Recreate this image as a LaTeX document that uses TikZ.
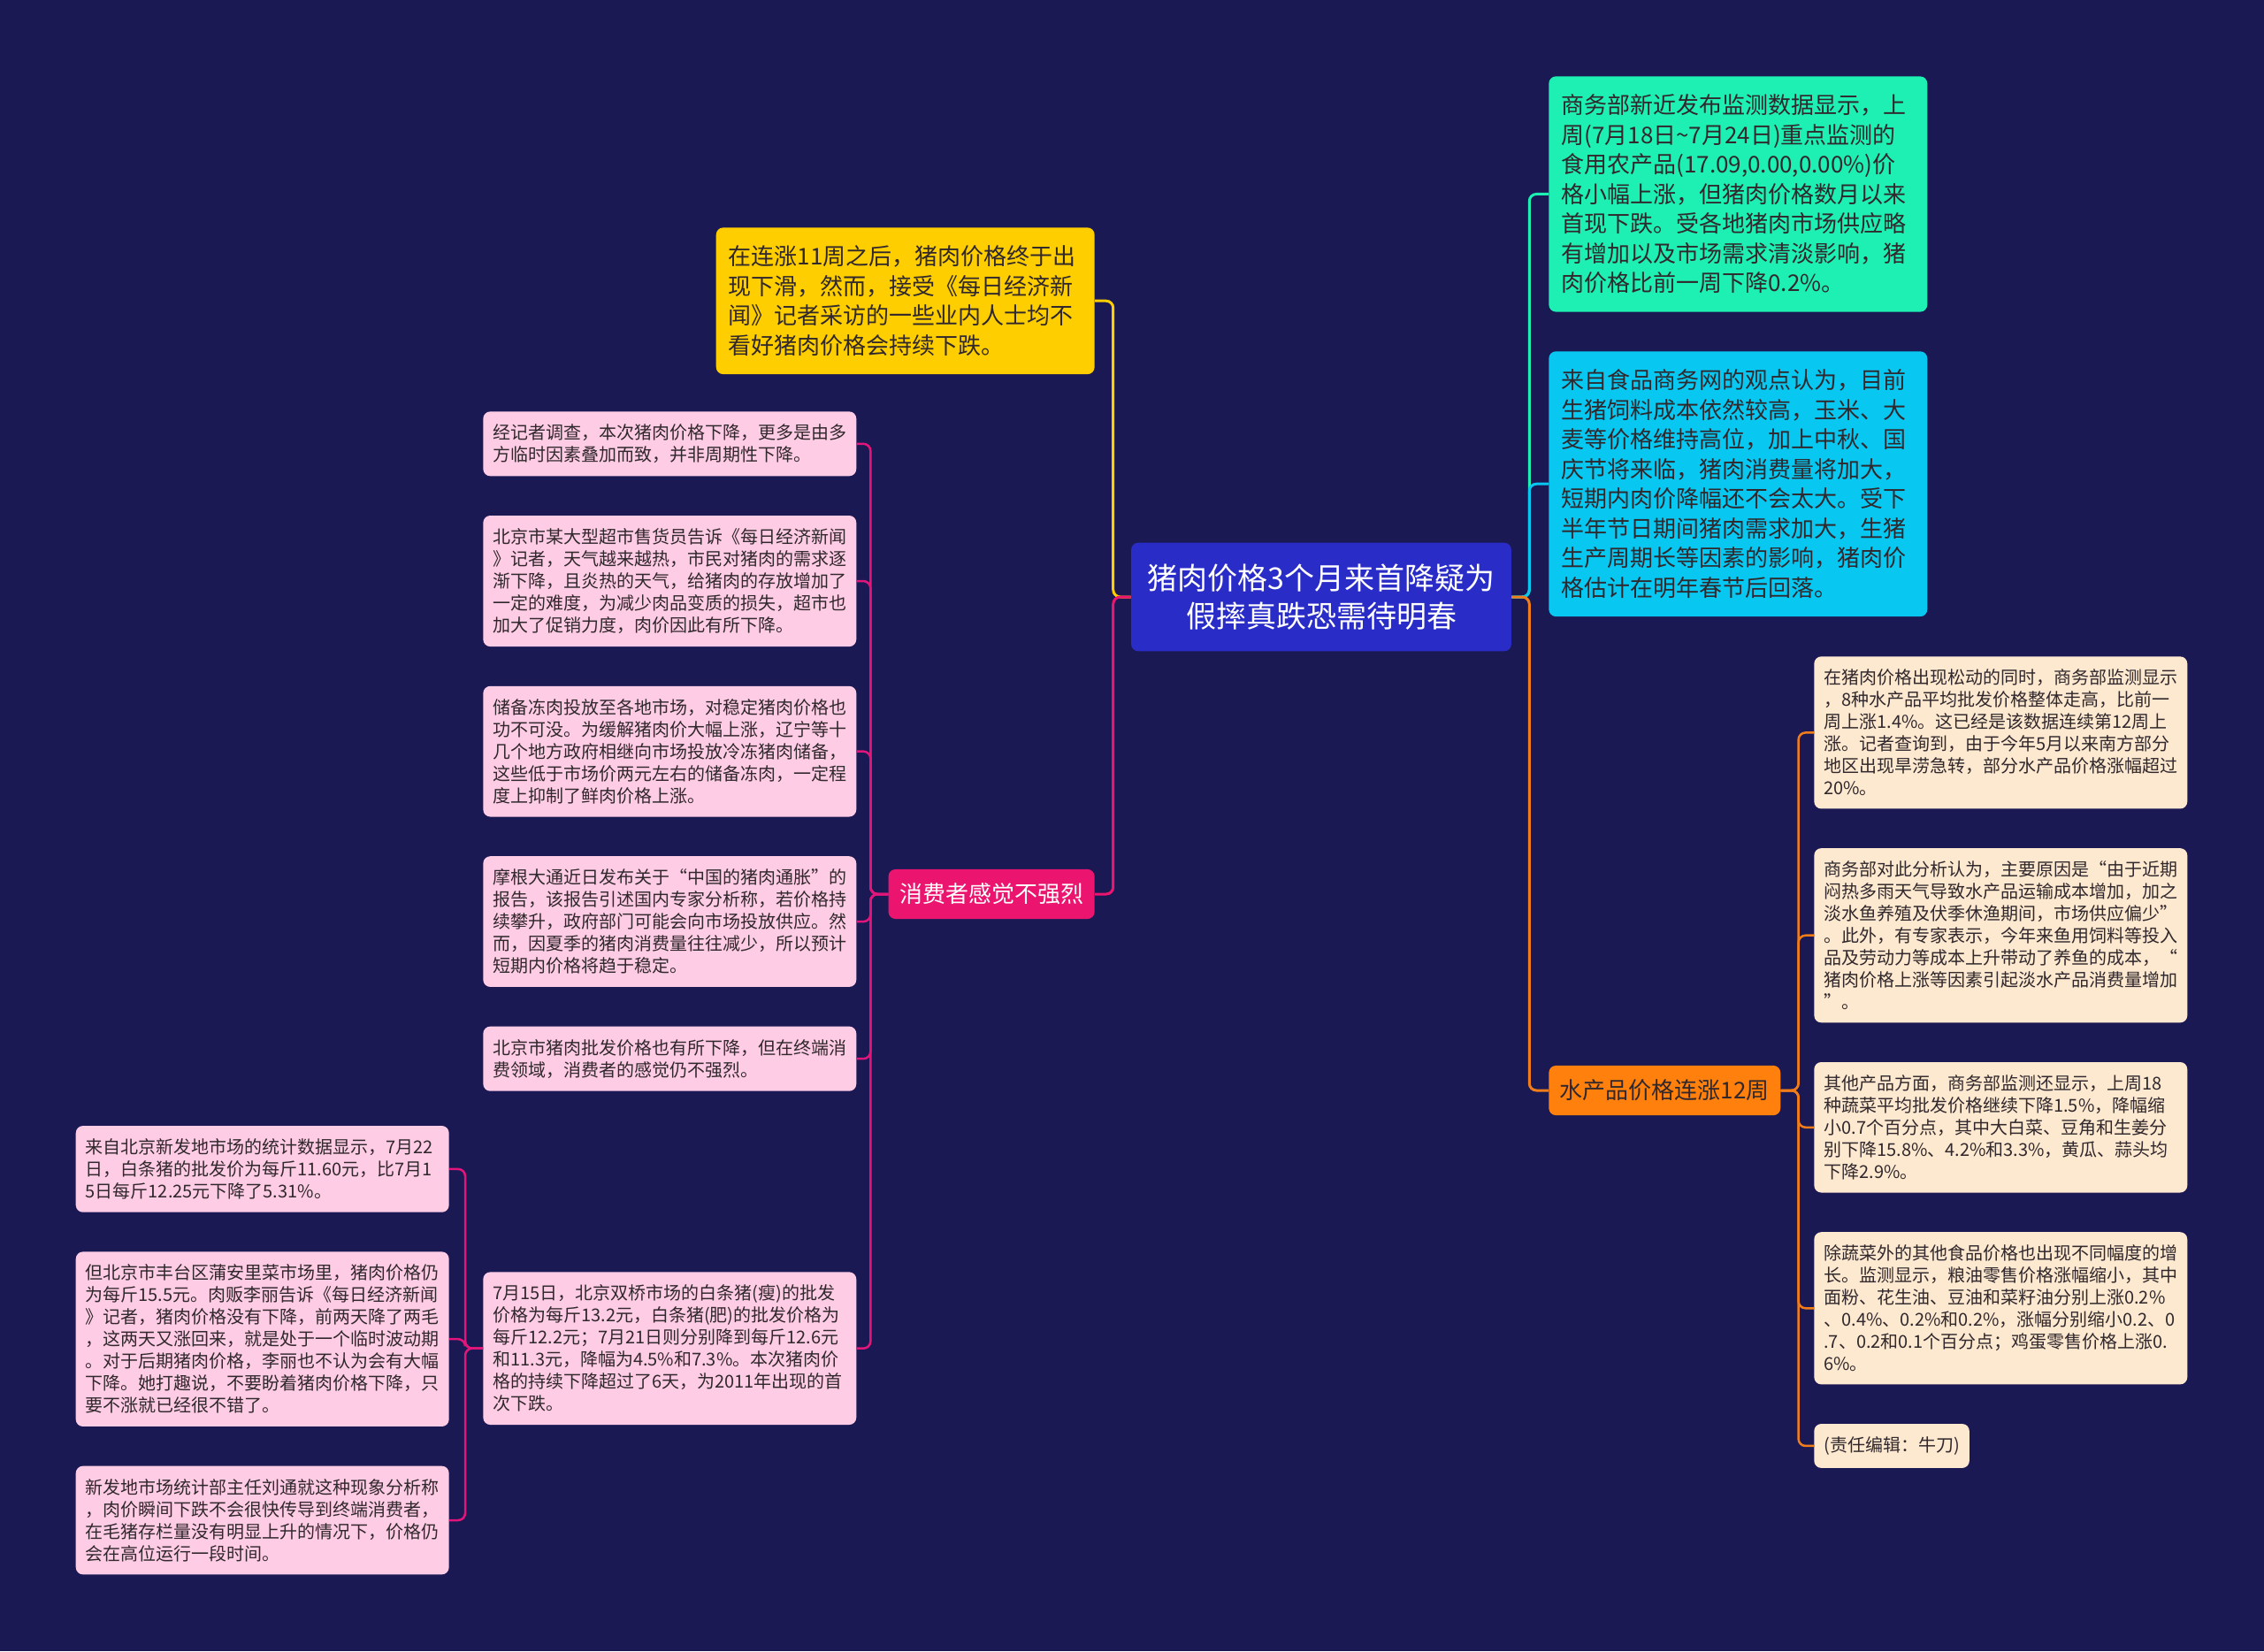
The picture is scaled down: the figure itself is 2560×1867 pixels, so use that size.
\documentclass[tikz,border=0pt]{standalone}
\usepackage{fontspec}
\newfontfamily\cjkfont{Noto Sans CJK SC}
\usetikzlibrary{positioning}

\definecolor{bgnavy}{RGB}{26,25,84}
\definecolor{rootblue}{RGB}{42,44,200}
\definecolor{tealbox}{RGB}{30,240,180}
\definecolor{cyanbox}{RGB}{8,200,242}
\definecolor{goldbox}{RGB}{255,206,0}
\definecolor{pinkbox}{RGB}{235,20,110}
\definecolor{orangebox}{RGB}{255,128,12}
\definecolor{pinkpale}{RGB}{255,204,229}
\definecolor{peachpale}{RGB}{253,232,208}
\definecolor{pinkline}{RGB}{226,22,122}
\definecolor{orangeline}{RGB}{240,125,25}
\definecolor{inkdark}{RGB}{48,40,44}

\begin{document}
\begin{tikzpicture}[
    x=0.02cm, y=-0.02cm,
    node distance=0.88cm,
    every node/.style={font=\cjkfont, inner sep=0pt},
    rootbox/.style={fill=rootblue, text=white, rounded corners=0.16cm, align=center, inner xsep=0.37cm, inner ysep=0.48cm, font=\cjkfont\fontsize{19.35pt}{24.47pt}\selectfont},
    bigleaf/.style={rounded corners=0.16cm, text width=8cm, align=left, inner xsep=0.28cm, inner ysep=0.41cm, text=inkdark, font=\cjkfont\fontsize{14.8pt}{19.07pt}\selectfont},
    branch/.style={rounded corners=0.16cm, inner xsep=0.25cm, inner ysep=0.32cm, font=\cjkfont\fontsize{14.8pt}{18.78pt}\selectfont},
    leaf/.style={rounded corners=0.16cm, align=left, inner xsep=0.22cm, inner ysep=0.29cm, text=inkdark, font=\cjkfont\fontsize{11.38pt}{14.23pt}\selectfont},
    pinkleaf/.style={leaf, fill=pinkpale, text width=8cm},
    peachleaf/.style={leaf, fill=peachpale, text width=8cm},
    link/.style={line width=0.06cm, rounded corners=0.16cm},
    twig/.style={line width=0.05cm, rounded corners=0.16cm}
]
    \fill[bgnavy] (0,0) rectangle (2560,1867);

    % Central topic
    \node[rootbox] (root) at (1494,675) {猪肉价格3个月来首降疑为\\假摔真跌恐需待明春};

    % Right side
    \node[bigleaf, fill=tealbox, anchor=north west] (ministry) at (1751,86) {商务部新近发布监测数据显示，上\\周(7月18日\textasciitilde 7月24日)重点监测的\\食用农产品(17.09,0.00,0.00\%)价\\格小幅上涨，但猪肉价格数月以来\\首现下跌。受各地猪肉市场供应略\\有增加以及市场需求清淡影响，猪\\肉价格比前一周下降0.2\%。};
    \node[bigleaf, fill=cyanbox, below=of ministry] (outlook) {来自食品商务网的观点认为，目前\\生猪饲料成本依然较高，玉米、大\\麦等价格维持高位，加上中秋、国\\庆节将来临，猪肉消费量将加大，\\短期内肉价降幅还不会太大。受下\\半年节日期间猪肉需求加大，生猪\\生产周期长等因素的影响，猪肉价\\格估计在明年春节后回落。};
    \node[branch, fill=orangebox, text=inkdark, anchor=west] (aquatic) at (1751,1233) {水产品价格连涨12周};

    \node[peachleaf, anchor=north west] (fish1) at (2051,742) {在猪肉价格出现松动的同时，商务部监测显示\\，8种水产品平均批发价格整体走高，比前一\\周上涨1.4\%。这已经是该数据连续第12周上\\涨。记者查询到，由于今年5月以来南方部分\\地区出现旱涝急转，部分水产品价格涨幅超过\\20\%。};
    \node[peachleaf, below=of fish1] (fish2) {商务部对此分析认为，主要原因是“由于近期\\闷热多雨天气导致水产品运输成本增加，加之\\淡水鱼养殖及伏季休渔期间，市场供应偏少”\\。此外，有专家表示，今年来鱼用饲料等投入\\品及劳动力等成本上升带动了养鱼的成本，“\\猪肉价格上涨等因素引起淡水产品消费量增加\\”。};
    \node[peachleaf, below=of fish2] (veg) {其他产品方面，商务部监测还显示，上周18\\种蔬菜平均批发价格继续下降1.5\%，降幅缩\\小0.7个百分点，其中大白菜、豆角和生姜分\\别下降15.8\%、4.2\%和3.3\%，黄瓜、蒜头均\\下降2.9\%。};
    \node[peachleaf, below=of veg] (grain) {除蔬菜外的其他食品价格也出现不同幅度的增\\长。监测显示，粮油零售价格涨幅缩小，其中\\面粉、花生油、豆油和菜籽油分别上涨0.2\%\\、0.4\%、0.2\%和0.2\%，涨幅分别缩小0.2、0\\.7、0.2和0.1个百分点；鸡蛋零售价格上涨0.\\6\%。};
    \node[leaf, fill=peachpale, below=of grain.south west, anchor=north west] (editor) {(责任编辑：牛刀)};

    % Left side
    \node[bigleaf, fill=goldbox, anchor=north east] (slide) at (1238,257) {在连涨11周之后，猪肉价格终于出\\现下滑，然而，接受《每日经济新\\闻》记者采访的一些业内人士均不\\看好猪肉价格会持续下跌。};
    \node[branch, fill=pinkbox, text=white, anchor=east] (consumer) at (1238,1011) {消费者感觉不强烈};

    \node[pinkleaf, anchor=north west] (survey) at (546,465) {经记者调查，本次猪肉价格下降，更多是由多\\方临时因素叠加而致，并非周期性下降。};
    \node[pinkleaf, below=of survey] (market) {北京市某大型超市售货员告诉《每日经济新闻\\》记者，天气越来越热，市民对猪肉的需求逐\\渐下降，且炎热的天气，给猪肉的存放增加了\\一定的难度，为减少肉品变质的损失，超市也\\加大了促销力度，肉价因此有所下降。};
    \node[pinkleaf, below=of market] (reserve) {储备冻肉投放至各地市场，对稳定猪肉价格也\\功不可没。为缓解猪肉价大幅上涨，辽宁等十\\几个地方政府相继向市场投放冷冻猪肉储备，\\这些低于市场价两元左右的储备冻肉，一定程\\度上抑制了鲜肉价格上涨。};
    \node[pinkleaf, below=of reserve] (morgan) {摩根大通近日发布关于“中国的猪肉通胀”的\\报告，该报告引述国内专家分析称，若价格持\\续攀升，政府部门可能会向市场投放供应。然\\而，因夏季的猪肉消费量往往减少，所以预计\\短期内价格将趋于稳定。};
    \node[pinkleaf, below=of morgan] (wholesale) {北京市猪肉批发价格也有所下降，但在终端消\\费领域，消费者的感觉仍不强烈。};
    \node[pinkleaf, below=4.08cm of wholesale] (shuangqiao) {7月15日，北京双桥市场的白条猪(瘦)的批发\\价格为每斤13.2元，白条猪(肥)的批发价格为\\每斤12.2元；7月21日则分别降到每斤12.6元\\和11.3元，降幅为4.5\%和7.3\%。本次猪肉价\\格的持续下降超过了6天，为2011年出现的首\\次下跌。};

    \node[pinkleaf, left=0.76cm of shuangqiao, yshift=0.21cm] (fengtai) {但北京市丰台区蒲安里菜市场里，猪肉价格仍\\为每斤15.5元。肉贩李丽告诉《每日经济新闻\\》记者，猪肉价格没有下降，前两天降了两毛\\，这两天又涨回来，就是处于一个临时波动期\\。对于后期猪肉价格，李丽也不认为会有大幅\\下降。她打趣说，不要盼着猪肉价格下降，只\\要不涨就已经很不错了。};
    \node[pinkleaf, above=of fengtai] (xinfadi) {来自北京新发地市场的统计数据显示，7月22\\日，白条猪的批发价为每斤11.60元，比7月1\\5日每斤12.25元下降了5.31\%。};
    \node[pinkleaf, below=of fengtai] (liutong) {新发地市场统计部主任刘通就这种现象分析称\\，肉价瞬间下跌不会很快传导到终端消费者，\\在毛猪存栏量没有明显上升的情况下，价格仍\\会在高位运行一段时间。};

    % Main branches
    \draw[link, draw=goldbox] (root.west) -- ++(-20,0) |- (slide.east);
    \draw[link, draw=pinkbox] (root.west) -- ++(-20,0) |- (consumer.east);
    \draw[link, draw=tealbox] (root.east) -- ++(20,0) |- (ministry.west);
    \draw[link, draw=cyanbox] (root.east) -- ++(20,0) |- (outlook.west);
    \draw[link, draw=orangeline] (root.east) -- ++(20,0) |- (aquatic.west);

    % Consumer leaves
    \draw[twig, draw=pinkline] (consumer.west) -- ++(-20,0) |- (survey.east);
    \draw[twig, draw=pinkline] (consumer.west) -- ++(-20,0) |- (market.east);
    \draw[twig, draw=pinkline] (consumer.west) -- ++(-20,0) |- (reserve.east);
    \draw[twig, draw=pinkline] (consumer.west) -- ++(-20,0) |- (morgan.east);
    \draw[twig, draw=pinkline] (consumer.west) -- ++(-20,0) |- (wholesale.east);
    \draw[twig, draw=pinkline] (consumer.west) -- ++(-20,0) |- (shuangqiao.east);

    \draw[twig, draw=pinkline] (shuangqiao.west) -- ++(-20,0) |- (xinfadi.east);
    \draw[twig, draw=pinkline] (shuangqiao.west) -- ++(-20,0) |- (fengtai.east);
    \draw[twig, draw=pinkline] (shuangqiao.west) -- ++(-20,0) |- (liutong.east);

    % Aquatic leaves
    \draw[twig, draw=orangeline] (aquatic.east) -- ++(20,0) |- (fish1.west);
    \draw[twig, draw=orangeline] (aquatic.east) -- ++(20,0) |- (fish2.west);
    \draw[twig, draw=orangeline] (aquatic.east) -- ++(20,0) |- (veg.west);
    \draw[twig, draw=orangeline] (aquatic.east) -- ++(20,0) |- (grain.west);
    \draw[twig, draw=orangeline] (aquatic.east) -- ++(20,0) |- (editor.west);
\end{tikzpicture}
\end{document}
